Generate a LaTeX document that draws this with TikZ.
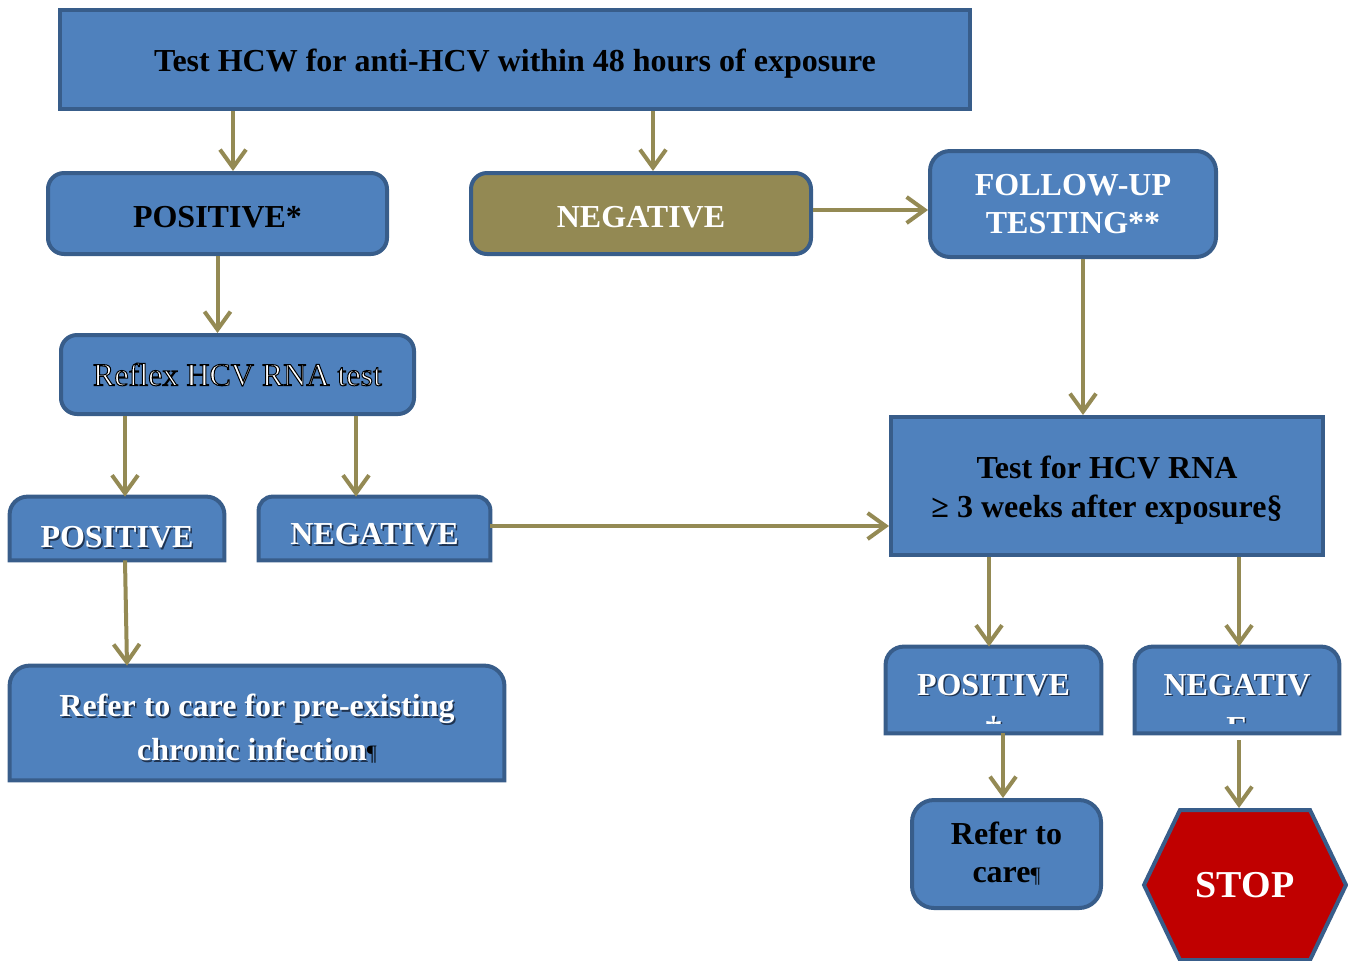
\documentclass[tikz,border=0pt]{standalone}
\usepackage{fontspec}
\setmainfont{Liberation Serif}
\usetikzlibrary{arrows.meta}
\definecolor{boxfill}{HTML}{4F81BD}
\definecolor{boxline}{HTML}{385D8A}
\definecolor{olivefill}{HTML}{938953}
\definecolor{arrowc}{HTML}{948A54}
\definecolor{stopred}{HTML}{C00000}
\definecolor{shadowc}{HTML}{1F3350}
\pgfdeclarelayer{background}
\pgfsetlayers{background,main}
\newcommand{\shd}[1]{\leavevmode\rlap{\kern0.8pt\raisebox{-0.8pt}{\textcolor{shadowc}{#1}}}#1}
\newcommand{\outl}[1]{\special{pdf:literal direct 2 Tr 0.5 w 0 0 0 RG}#1\special{pdf:literal direct 0 Tr}}
\newcommand{\pil}{{\color{black}\fontsize{11}{12}\selectfont\mdseries ¶}}
\newcommand{\toprnd}[2]{%
  \filldraw[boxshape] (#1.south west) -- ([yshift=-#2]#1.north west)
    arc[start angle=180,end angle=90,radius=#2] -- ([xshift=-#2]#1.north east)
    arc[start angle=90,end angle=0,radius=#2] -- (#1.south east) -- cycle;}
\tikzset{
  every node/.style={font=\fontsize{16}{19}\selectfont\bfseries, align=center, inner sep=0pt},
  boxshape/.style={draw=boxline, fill=boxfill, line width=2pt},
  sqbox/.style={boxshape},
  rbox/.style={boxshape, rounded corners=8pt},
  tbox/.style={text=white},
  arr/.style={draw=arrowc, line width=2pt, -{Straight Barb[length=9pt,width=13pt]}},
}
\begin{document}
\begin{tikzpicture}[x=0.5pt,y=0.5pt]
\useasboundingbox (0,0) rectangle (1348,-960);
% boxes
\node[sqbox, minimum width=455pt, minimum height=49.5pt, text height=15.8pt, text depth=3.5pt] (top) at (515,-59.5)
  {Test HCW for anti-HCV within 48 hours of exposure};
\node[rbox, minimum width=169.5pt, minimum height=40.5pt, text height=13.8pt, text depth=0pt] (pos1) at (217.5,-213.5) {POSITIVE*};
\node[rbox, fill=olivefill, text=white, minimum width=170pt, minimum height=40.5pt, text height=13.8pt, text depth=0pt] (neg1) at (641,-213.5) {NEGATIVE};
\node[rbox, rounded corners=10pt, text=white, minimum width=143pt, minimum height=53pt] (fu) at (1073,-204) {FOLLOW-UP\\TESTING**};
\node[rbox, text=white, font=\fontsize{16}{19}\selectfont, minimum width=176.5pt, minimum height=39.5pt] (reflex) at (237.5,-374.5) {\outl{Reflex HCV RNA test}};
\node[tbox, minimum width=107pt, minimum height=31.5pt, text height=20pt] (posL) at (117,-528.5) {\shd{POSITIVE}};
\node[tbox, minimum width=115.5pt, minimum height=31.5pt, text height=17.2pt] (negL) at (374.5,-528.5) {\shd{NEGATIVE}};
\node[tbox, minimum width=247pt, minimum height=57pt, font=\fontsize{16}{22}\selectfont\bfseries] (refer1) at (257,-723)
  {\rule{0pt}{16.8pt}\shd{Refer to care for pre-existing}\\\shd{chronic infection}\pil};
\node[sqbox, minimum width=216pt, minimum height=69pt, font=\fontsize{16}{19.5}\selectfont\bfseries] (test) at (1107,-486)
  {\rule{0pt}{15.8pt}Test for HCV RNA\\≥ 3 weeks after exposure§};
\node[tbox, minimum width=107.5pt, minimum height=43pt, text depth=5.5pt] (posR) at (993.5,-690) {\shd{POSITIVE}};
\node[tbox, minimum width=102pt, minimum height=43pt, text depth=5.5pt] (negR) at (1237,-690) {\shd{NEGATIV}};
\begin{scope}
  \clip (886,-647) rectangle (1339,-723);
  \node[tbox, anchor=base] (posRd) at (993.5,-738) {\shd{†}};
  \node[tbox, anchor=base] (negRe) at (1237,-738) {\shd{E}};
\end{scope}
\node[rbox, rounded corners=11pt, minimum width=94.5pt, minimum height=54pt] (care) at (1006.5,-854) {Refer to\\care\pil};
\node[text=white, font=\fontsize{19}{22}\selectfont\bfseries] (stop) at (1245,-885) {STOP};
\begin{pgfonlayer}{background}
  \toprnd{posL}{9pt}
  \toprnd{negL}{7pt}
  \toprnd{refer1}{10pt}
  \toprnd{posR}{9pt}
  \toprnd{negR}{9pt}
  \filldraw[draw=boxline, fill=stopred, line width=2pt]
    ([shift={(-50.5pt,0pt)}]stop.center) -- ([shift={(-32.5pt,37.5pt)}]stop.center)
    -- ([shift={(32.5pt,37.5pt)}]stop.center) -- ([shift={(50.5pt,0pt)}]stop.center)
    -- ([shift={(32.5pt,-37.5pt)}]stop.center) -- ([shift={(-32.5pt,-37.5pt)}]stop.center) -- cycle;
\end{pgfonlayer}
% connectors
\draw[arr] ([xshift=7.75pt]pos1.north |- top.south) -- ([xshift=7.75pt]pos1.north);
\draw[arr] ([xshift=6pt]neg1.north |- top.south) -- ([xshift=6pt]neg1.north);
\draw[arr] ([yshift=1.75pt]neg1.east) -- ([yshift=1.75pt]neg1.east -| fu.west);
\draw[arr] (pos1.south) -- (pos1.south |- reflex.north);
\draw[arr] ([xshift=4pt]posL.north |- reflex.south) -- ([xshift=4pt]posL.north);
\draw[arr] ([xshift=-9.25pt]negL.north |- reflex.south) -- ([xshift=-9.25pt]negL.north);
\draw[arr] ([xshift=4pt]posL.south) -- ([xshift=-65pt]refer1.north);
\draw[arr] ([yshift=1.25pt]negL.east) -- ([yshift=1.25pt]negL.east -| test.west);
\draw[arr] ([xshift=5pt]fu.south) -- ([xshift=5pt]fu.south |- test.north);
\draw[arr] ([xshift=-2.25pt]posR.north |- test.south) -- ([xshift=-2.25pt]posR.north);
\draw[arr] ([xshift=1pt]negR.north |- test.south) -- ([xshift=1pt]negR.north);
\draw[arr] ([xshift=4.75pt]posR.south) -- ([xshift=-1.75pt]care.north);
\draw[arr] ([xshift=1pt,yshift=-3.5pt]negR.south) -- ([xshift=-3pt,yshift=38.5pt]stop.center);
\end{tikzpicture}
\end{document}
